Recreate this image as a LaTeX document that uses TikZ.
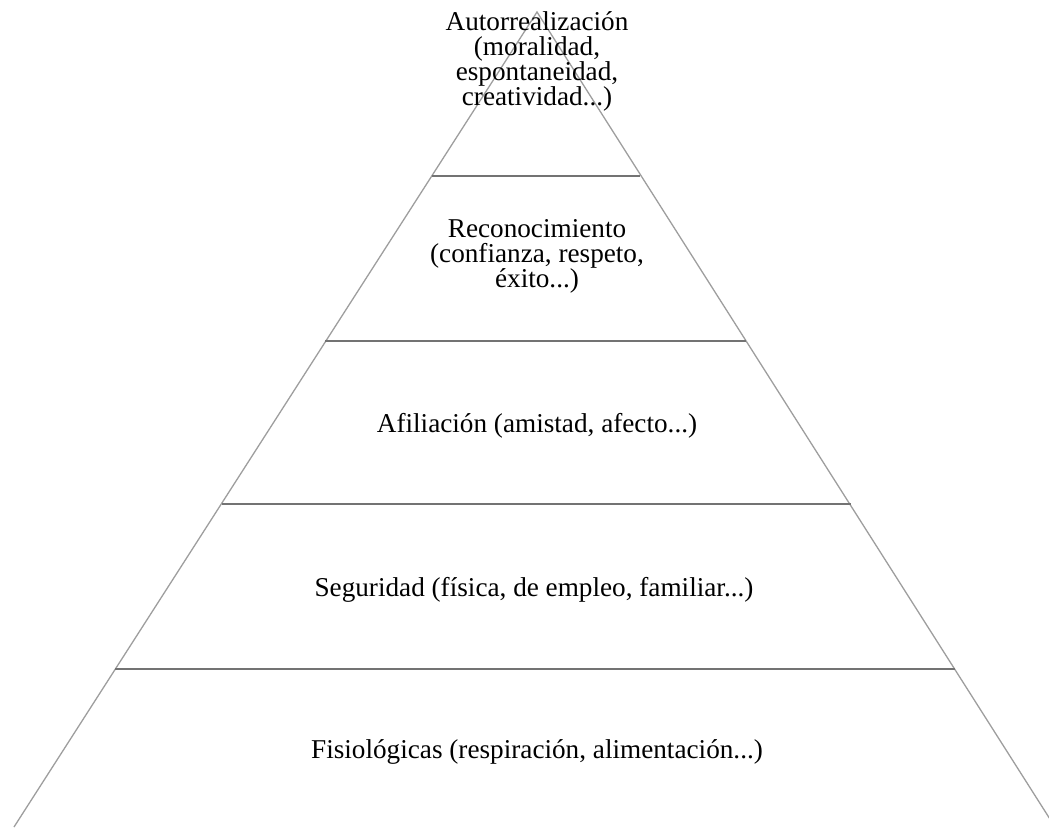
\documentclass[tikz,border=0pt]{standalone}
\usepackage{fontspec}
\setmainfont{Liberation Serif}
\begin{document}
\begin{tikzpicture}[x=1pt,y=1pt,
  side/.style={draw=black!38,line width=1.3pt},
  level/.style={draw=black!55,line width=1.3pt},
  lbl/.style={align=center,font=\fontsize{27.2}{25}\selectfont,inner sep=0pt}]
\useasboundingbox (0,0) rectangle (1049,827);
\clip (0,0) rectangle (1049,827);
\coordinate (apex) at (537,815);
\coordinate (bl) at (14,0);
\coordinate (br) at (1055,0);
\draw[side] (bl) -- (apex) -- (br);
% levels
\coordinate (l1a) at (432,651); \coordinate (l1b) at (640,651);
\coordinate (l2a) at (325,486); \coordinate (l2b) at (746,486);
\coordinate (l3a) at (222,323); \coordinate (l3b) at (851,323);
\coordinate (l4a) at (115,158); \coordinate (l4b) at (955,158);
\draw[level] (l1a) -- (l1b);
\draw[level] (l2a) -- (l2b);
\draw[level] (l3a) -- (l3b);
\draw[level] (l4a) -- (l4b);
% labels
\node[lbl] (t1) at (537,766) {Autorrealización\\(moralidad,\\espontaneidad,\\creatividad...)};
\node[lbl] (t2) at (537,571) {Reconocimiento\\(confianza, respeto,\\éxito...)};
\node[lbl] (t3) at (537,401) {Afiliación (amistad, afecto...)};
\node[lbl] (t4) at (534,237) {Seguridad (física, de empleo, familiar...)};
\node[lbl] (t5) at (537,75) {Fisiológicas (respiración, alimentación...)};
\end{tikzpicture}
\end{document}
